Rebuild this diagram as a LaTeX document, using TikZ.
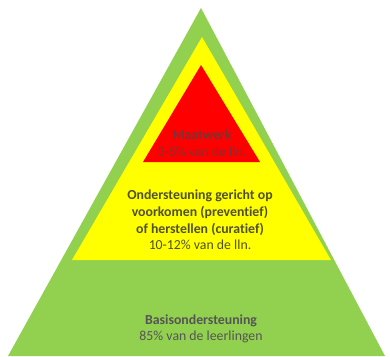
\documentclass[tikz,border=0pt]{standalone}
\usepackage{fontspec}
\setmainfont{Carlito}[Ligatures=NoCommon]
\usepackage{tikz}
\definecolor{basisgreen}{HTML}{92D050}
\definecolor{zorgyellow}{HTML}{FFFF00}
\definecolor{maatred}{HTML}{FF0000}
\tikzstyle{laagtekst}=[align=center,inner sep=0pt,
                       font=\fontsize{13.8}{16.6}\selectfont]

\begin{document}
\begin{tikzpicture}[x=1pt,y=-1pt]
    \useasboundingbox (0,0) rectangle (390,356);
    % three layers of the pyramid
    \coordinate (top)  at (201,8);
    \coordinate (bl)   at (8,356);
    \coordinate (br)   at (385,356);
    \fill[basisgreen] (top) -- (bl) -- (br) -- cycle;
    \fill[zorgyellow] (202,37) -- (72,260) -- (331,260) -- cycle;
    \fill[maatred] (201,65) -- (143,162) -- (260,162) -- cycle;
    % texts
    \node (maatwerk) at (202,143.5) [laagtekst,text={rgb,255:red,125;green,50;blue,50}]
        {\textbf{Maatwerk}\\3-5\% van de lln.};
    \node (zorg) at (200,220) [laagtekst,text={rgb,255:red,80;green,80;blue,45}]
        {\textbf{Ondersteuning gericht op}\\\textbf{voorkomen (preventief)}\\
         \textbf{of herstellen (curatief)}\\10-12\% van de lln.};
    \node (basis) at (201,329) [laagtekst,text={rgb,255:red,85;green,85;blue,85}]
        {\textbf{Basisondersteuning}\\85\% van de leerlingen};
\end{tikzpicture}
\end{document}
